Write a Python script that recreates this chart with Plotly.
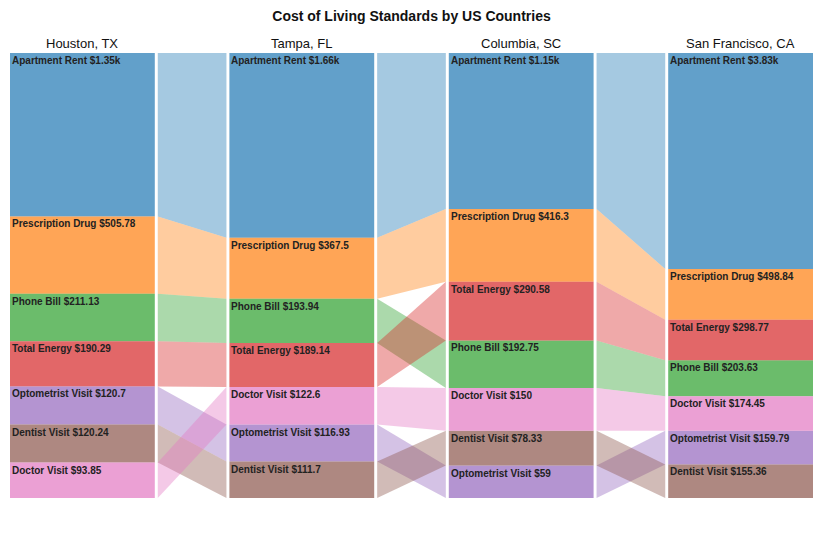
import plotly.graph_objects as go

cities = ["Houston, TX", "Tampa, FL", "Columbia, SC", "San Francisco, CA"]
categories = ["Apartment Rent", "Prescription Drug", "Phone Bill", "Total Energy",
              "Optometrist Visit", "Dentist Visit", "Doctor Visit"]
apartment_rent = [1350, 1660, 1150, 3830]
prescription_drug = [505.78, 367.5, 416.3, 498.84]
phone_bill = [211.13, 193.94, 192.75, 203.63]
total_energy = [190.29, 189.14, 290.58, 298.77]
optometrist_visit = [120.7, 116.93, 59, 159.79]
dentist_visit = [120.24, 111.7, 78.33, 155.36]
doctor_visit = [93.85, 122.6, 150, 174.45]

series = [apartment_rent, prescription_drug, phone_bill, total_energy,
          optometrist_visit, dentist_visit, doctor_visit]
colors = [(31, 119, 180), (255, 127, 14), (44, 160, 44), (214, 39, 40),
          (148, 103, 189), (140, 86, 75), (227, 119, 194)]

MIN_SHARE = 0.058   # each segment gets a minimum share of the column height
BAR_W = 0.66
GAP = 0.0135

def fmt(v):
    if v >= 1000:
        return "$" + f"{v/1000:.3g}" + "k"
    return "$" + f"{v:g}"

n_cat = len(categories)
# compute stacked positions per column (sorted descending from top)
tops = [[0] * len(cities) for _ in range(n_cat)]
bots = [[0] * len(cities) for _ in range(n_cat)]
for j in range(len(cities)):
    vals = [series[c][j] for c in range(n_cat)]
    total = sum(vals)
    order = sorted(range(n_cat), key=lambda c: -vals[c])
    y = 1.0
    for c in order:
        h = MIN_SHARE + (1 - n_cat * MIN_SHARE) * vals[c] / total
        tops[c][j] = y
        bots[c][j] = y - h
        y -= h

fig = go.Figure()

# ribbons
for c in range(n_cat):
    r, g, b = colors[c]
    for j in range(len(cities) - 1):
        x0 = j + BAR_W / 2 + GAP
        x1 = j + 1 - BAR_W / 2 - GAP
        fig.add_trace(go.Scatter(
            x=[x0, x1, x1, x0, x0],
            y=[tops[c][j], tops[c][j + 1], bots[c][j + 1], bots[c][j], tops[c][j]],
            mode="lines", line=dict(width=0), fill="toself",
            fillcolor=f"rgba({r},{g},{b},0.4)", hoverinfo="skip", showlegend=False))

# bars
for c in range(n_cat):
    r, g, b = colors[c]
    fig.add_trace(go.Bar(
        x=list(range(len(cities))),
        y=[tops[c][j] - bots[c][j] for j in range(len(cities))],
        base=bots[c], width=BAR_W,
        marker=dict(color=f"rgba({r},{g},{b},0.7)", line=dict(width=0)),
        name=categories[c], showlegend=False))

annotations = []
for c in range(n_cat):
    for j in range(len(cities)):
        annotations.append(dict(
            x=j - BAR_W / 2, y=tops[c][j], xref="x", yref="y",
            xanchor="left", yanchor="top", xshift=0, yshift=0,
            text=f"<b>{categories[c]} {fmt(series[c][j])}</b>", showarrow=False,
            font=dict(family="Liberation Sans, Arial", size=10, color="#222")))
for j, city in enumerate(cities):
    annotations.append(dict(
        x=j, y=1, xref="x", yref="y", xanchor="center", yanchor="bottom",
        text=city, showarrow=False, yshift=0,
        font=dict(family="Liberation Sans, Arial", size=13, color="#111")))

fig.update_layout(
    width=839, height=542,
    margin=dict(l=10, r=26, t=53, b=44),
    barmode="overlay",
    plot_bgcolor="white", paper_bgcolor="white",
    title=dict(text="<b>Cost of Living Standards by US Countries</b>",
               x=0.5, xref="paper", xanchor="center", y=1 - 16 / 542, yanchor="middle",
               font=dict(family="Liberation Sans, Arial", size=14, color="#111")),
    xaxis=dict(range=[-BAR_W / 2, len(cities) - 1 + BAR_W / 2], visible=False),
    yaxis=dict(range=[0, 1], visible=False),
    annotations=annotations,
    showlegend=False,
)

fig.write_html("out.html")
